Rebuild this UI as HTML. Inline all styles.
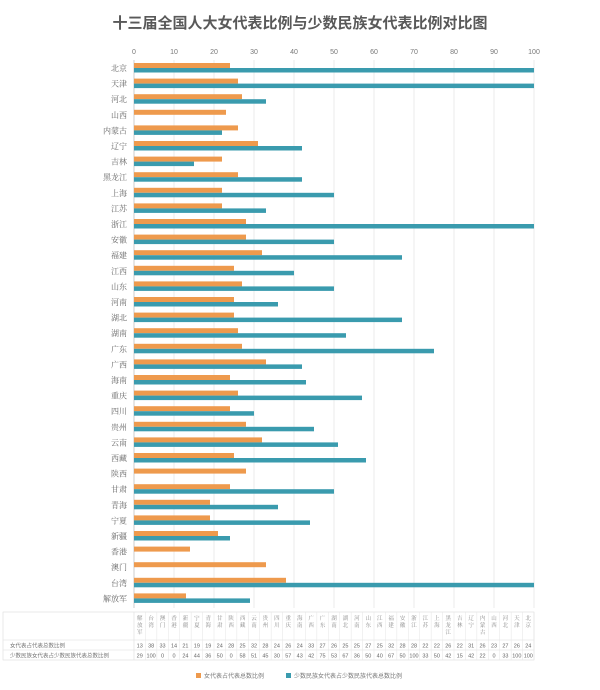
<!DOCTYPE html>
<html><head><meta charset="utf-8"><style>
body{margin:0;background:#fff;font-family:"Liberation Sans","Noto Sans CJK SC",sans-serif;}
svg text{font-family:"Liberation Sans","Noto Sans CJK SC",sans-serif;}
svg text.serif{font-family:"Liberation Serif","Noto Serif CJK SC",serif;}
</style></head><body>
<svg id="c" width="600" height="685">
<rect x="0" y="0" width="600" height="685" fill="#fff"/>
<text x="300" y="28" text-anchor="middle" font-size="15" font-weight="bold" fill="#595959">十三届全国人大女代表比例与少数民族女代表比例对比图</text>
<g id="grid"></g><g id="bars"></g><g id="table"></g>
<g>
<rect x="196" y="673" width="5" height="5" fill="#EE9A4D"/>
<text x="204" y="678" font-size="6" fill="#777">女代表占代表总数比例</text>
<rect x="286" y="673" width="5" height="5" fill="#3A9BAE"/>
<text x="294" y="678" font-size="6" fill="#777">少数民族女代表占少数民族代表总数比例</text>
</g>
</svg>
<script>
const categories=["北京","天津","河北","山西","内蒙古","辽宁","吉林","黑龙江","上海","江苏","浙江","安徽","福建","江西","山东","河南","湖北","湖南","广东","广西","海南","重庆","四川","贵州","云南","西藏","陕西","甘肃","青海","宁夏","新疆","香港","澳门","台湾","解放军"];
const women=[24,26,27,23,26,31,22,26,22,22,28,28,32,25,27,25,25,26,27,33,24,26,24,28,32,25,28,24,19,19,21,14,33,38,13];
const minority=[100,100,33,0,22,42,15,42,50,33,100,50,67,40,50,36,67,53,75,42,43,57,30,45,51,58,0,50,36,44,24,0,0,100,29];
const ticks=[0,10,20,30,40,50,60,70,80,90,100];
const NS="http://www.w3.org/2000/svg";
const x0=134,x1=534,yTop=60,pitch=15.6;
const xs=v=>x0+(x1-x0)*v/100;
const yc=i=>68+i*pitch;
function mk(t,a,p){const e=document.createElementNS(NS,t);for(const k in a)e.setAttribute(k,a[k]);p.appendChild(e);return e;}
const g=document.getElementById('grid'),b=document.getElementById('bars'),tb=document.getElementById('table');
ticks.forEach(t=>{
 const l=mk('line',{x1:xs(t),x2:xs(t),y1:yTop,y2:608,stroke:'#e6e6e6','stroke-width':0.8},g);
 
 
 const tx=mk('text',{x:xs(t),y:54,'text-anchor':'middle','font-size':7,fill:'#777'},g);tx.textContent=t;
 
 
});
categories.forEach((c,i)=>{
 const y=yc(i);
 const lab=mk('text',{x:127,y:y+3,'text-anchor':'end','font-size':8,fill:'#666','class':'serif'},b);lab.textContent=c;
 
 
 const r1=mk('rect',{x:x0,y:y-5,width:xs(women[i])-x0,height:5,fill:'#EE9A4D'},b);
 
 
 const r2=mk('rect',{x:x0,y:y,width:xs(minority[i])-x0,height:4.5,fill:'#3A9BAE'},b);
 
 
});
mk('line',{x1:x0,x2:x0,y1:yTop,y2:608,stroke:'#ccc','stroke-width':1},g);
const n=categories.length,cw=(x1-x0)/n;
const tl=mk('rect',{x:3,y:612,width:x1-3,height:48,fill:'none',stroke:'#ddd','stroke-width':0.6},tb);


[640,650].forEach(y=>mk('line',{x1:3,x2:x1,y1:y,y2:y,stroke:'#ddd','stroke-width':0.6},tb));
mk('line',{x1:x0,x2:x0,y1:612,y2:660,stroke:'#ddd','stroke-width':0.6},tb);
const r1t=mk('text',{x:10,y:647.5,'font-size':5.5,fill:'#777'},tb);r1t.textContent='女代表占代表总数比例';


const r2t=mk('text',{x:10,y:657.5,'font-size':5.5,fill:'#777'},tb);r2t.textContent='少数民族女代表占少数民族代表总数比例';


for(let j=0;j<n;j++){
 const i=n-1-j,cx=x0+cw*(j+0.5);
 mk('line',{x1:x0+cw*(j+1),x2:x0+cw*(j+1),y1:612,y2:660,stroke:'#e4e4e4','stroke-width':0.5},tb);
 const chars=[...categories[i]];
 chars.forEach((ch,k)=>{const t=mk('text',{x:cx,y:620+k*7,'text-anchor':'middle','font-size':5.5,fill:'#888','class':'serif'},tb);t.textContent=ch;});
 const a=mk('text',{x:cx,y:647.5,'text-anchor':'middle','font-size':5.5,fill:'#666'},tb);a.textContent=women[i];
 
 
 const bb=mk('text',{x:cx,y:657.5,'text-anchor':'middle','font-size':5.5,fill:'#666'},tb);bb.textContent=minority[i];
 
 
}
</script>
</body></html>
